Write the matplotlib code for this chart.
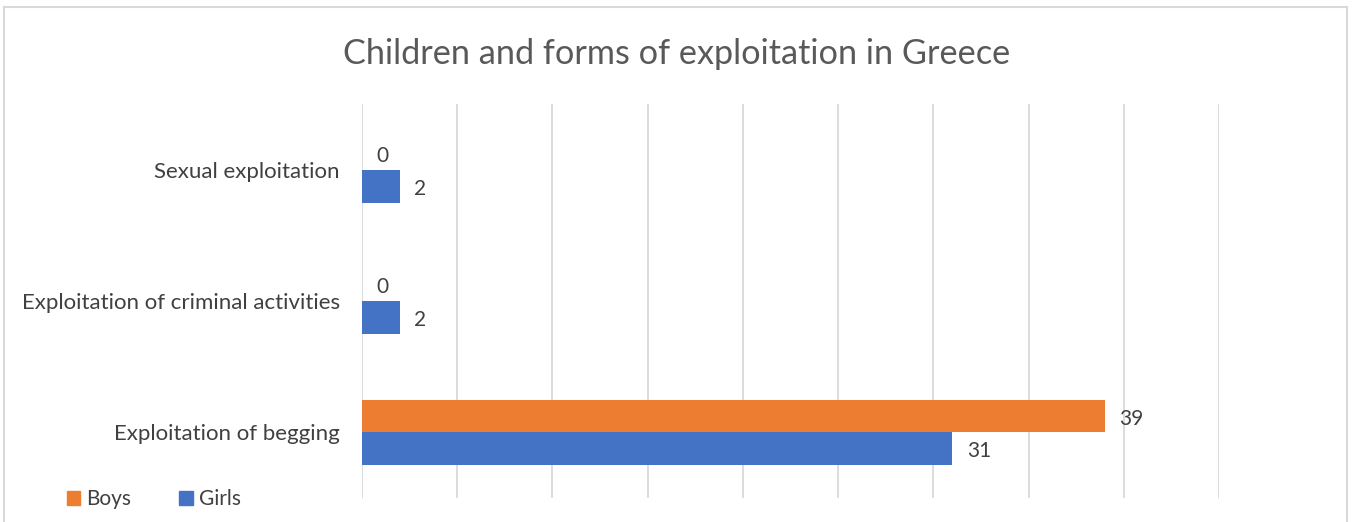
"""Horizontal clustered bar chart: children and forms of exploitation in Greece."""

import matplotlib

matplotlib.use("Agg")
import matplotlib.pyplot as plt
from matplotlib.lines import Line2D
from matplotlib.patches import Patch

plt.rcParams["font.family"] = ["Lato", "DejaVu Sans"]

# --- data (bottom to top, as drawn) ---
categories = ["Exploitation of begging", "Exploitation of criminal activities", "Sexual exploitation"]
boys = [39, 0, 0]
girls = [31, 2, 2]

BOYS_COLOR = "#ED7D31"
GIRLS_COLOR = "#4472C4"
TEXT_COLOR = "#404040"
GRID_COLOR = "#D9D9D9"

W, H = 1354, 522
fig = plt.figure(figsize=(W / 100, H / 100), dpi=100)
ax = fig.add_axes([362 / W, 1 - 498 / H, (1219 - 362) / W, (498 - 104) / H])

ypos = list(range(len(categories)))
bh = 0.25
ax.barh([y + bh / 2 for y in ypos], boys, height=bh, color=BOYS_COLOR, zorder=3)
ax.barh([y - bh / 2 for y in ypos], girls, height=bh, color=GIRLS_COLOR, zorder=3)

# data labels
for y, b, g in zip(ypos, boys, girls):
    ax.text(b + 0.75, y + bh / 2 - 0.02, str(b), va="center", ha="left", fontsize=15, color=TEXT_COLOR)
    ax.text(g + 0.75, y - bh / 2 - 0.02, str(g), va="center", ha="left", fontsize=15, color=TEXT_COLOR)

ax.set_xlim(0, 45)
ax.set_ylim(-0.5, 2.5)
ax.set_xticks(range(0, 50, 5))
ax.set_xticklabels([])
ax.tick_params(axis="x", length=0)
ax.grid(axis="x", color=GRID_COLOR, linewidth=1.3, zorder=0)
ax.set_yticks(ypos)
ax.set_yticklabels(categories, fontsize=16, color=TEXT_COLOR)
ax.tick_params(axis="y", length=0, pad=16)
for s in ax.spines.values():
    s.set_visible(False)

fig.text(677 / W, 1 - 54 / H, "Children and forms of exploitation in Greece",
         ha="center", va="center", fontsize=24.7, color="#595959")

handles = [Patch(color=BOYS_COLOR, label="Boys"), Patch(color=GIRLS_COLOR, label="Girls")]
fig.legend(handles=handles, loc="center left", bbox_to_anchor=(48 / W, 1 - 499 / H),
           ncol=2, frameon=False, fontsize=15, handlelength=0.65, handleheight=0.65,
           handletextpad=0.3, columnspacing=2.3, labelcolor=TEXT_COLOR)

# chart border (bottom edge is cropped in the reference)
bc = "#D9D9D9"
fig.add_artist(Line2D([4 / W, 1347 / W], [1 - 7 / H] * 2, color=bc, lw=1.5))
fig.add_artist(Line2D([4 / W] * 2, [0, 1 - 7 / H], color=bc, lw=1.5))
fig.add_artist(Line2D([1347 / W] * 2, [0, 1 - 7 / H], color=bc, lw=1.5))

fig.savefig("out.png", dpi=100)
